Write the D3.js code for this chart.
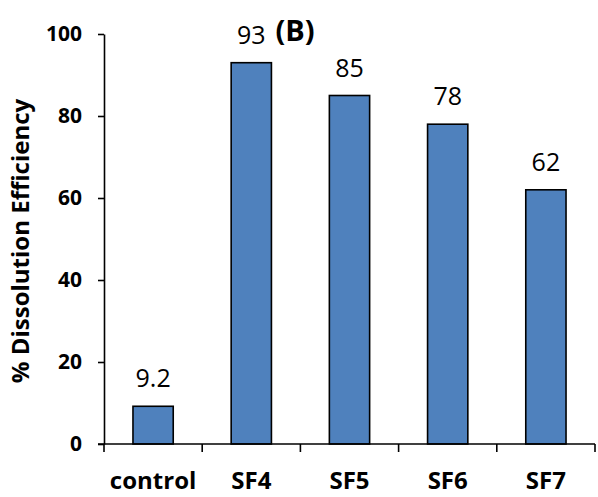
<!DOCTYPE html>
<html>
<head>
<meta charset="utf-8">
<script src="https://cdn.jsdelivr.net/npm/d3@7"></script>
<style>
  html, body { margin: 0; padding: 0; background: #fff; }
  svg { display: block; }
</style>
</head>
<body>
<svg id="chart" width="598" height="497"></svg>
<script>
const categories = ["control", "SF4", "SF5", "SF6", "SF7"];
const values = [9.2, 93, 85, 78, 62];
const yTicks = [0, 20, 40, 60, 80, 100];
const yTitle = "% Dissolution Efficiency";
const panelTitle = "(B)";

(function () {
const svg = d3.select("#chart");
const plotLeft = 104, plotRight = 595, plotTop = 34, plotBottom = 444;

const x = d3.scaleBand().domain(categories).range([plotLeft, plotRight])
  .paddingInner(0.59).paddingOuter(0.295);
const y = d3.scaleLinear().domain([0, 100]).range([plotBottom, plotTop]);

// Y axis
const yAxis = svg.append("g")
  .attr("transform", `translate(${plotLeft},0)`)
  .call(d3.axisLeft(y).tickValues(yTicks).tickSize(6).tickSizeOuter(0).tickPadding(16));
yAxis.select(".domain").attr("stroke", "#000").attr("stroke-width", 1.6);
yAxis.selectAll(".tick line").attr("stroke", "#000").attr("stroke-width", 1.6);
yAxis.selectAll(".tick text")
  .attr("font-family", "'Open Sans', sans-serif")
  .attr("font-weight", "bold")
  .attr("font-size", 21)
  .attr("fill", "#000");

// Bars
svg.append("g").selectAll("rect")
  .data(values)
  .join("rect")
  .attr("x", (d, i) => x(categories[i]))
  .attr("y", d => y(d))
  .attr("width", x.bandwidth())
  .attr("height", d => y(0) - y(d))
  .attr("fill", "#4f81bd")
  .attr("stroke", "#000")
  .attr("stroke-width", 1.6);

// X axis line
svg.append("line")
  .attr("x1", plotLeft - 6).attr("x2", plotRight)
  .attr("y1", y(0)).attr("y2", y(0))
  .attr("stroke", "#000").attr("stroke-width", 1.6);

// X ticks at category boundaries
const half = x.step() * x.paddingInner() / 2;
const boundaries = categories.map(c => x(c) - half)
  .concat([x(categories[categories.length - 1]) - half + x.step()]);
svg.append("g").selectAll("line")
  .data(boundaries)
  .join("line")
  .attr("x1", d => d).attr("x2", d => d)
  .attr("y1", y(0)).attr("y2", y(0) + 8)
  .attr("stroke", "#000").attr("stroke-width", 1.6);

// X labels
svg.append("g").selectAll("text")
  .data(categories)
  .join("text")
  .attr("x", d => x(d) + x.bandwidth() / 2)
  .attr("y", 489)
  .attr("text-anchor", "middle")
  .attr("font-family", "'Open Sans', sans-serif")
  .attr("font-weight", "bold")
  .attr("font-size", 24)
  .attr("fill", "#000")
  .text(d => d);

// Value labels
svg.append("g").selectAll("text")
  .data(values)
  .join("text")
  .attr("x", (d, i) => x(categories[i]) + x.bandwidth() / 2)
  .attr("y", d => y(d) - 19)
  .attr("text-anchor", "middle")
  .attr("font-family", "'Open Sans', sans-serif")
  .attr("font-size", 25)
  .attr("fill", "#000")
  .text(d => String(d));

// Y title
svg.append("text")
  .attr("transform", "translate(29,241) rotate(-90)")
  .attr("text-anchor", "middle")
  .attr("font-family", "'Open Sans', sans-serif")
  .attr("font-weight", "bold")
  .attr("font-size", 24)
  .attr("fill", "#000")
  .text(yTitle);

// Panel title
svg.append("text")
  .attr("x", 295)
  .attr("y", 41)
  .attr("text-anchor", "middle")
  .attr("font-family", "'Open Sans', sans-serif")
  .attr("font-weight", "bold")
  .attr("font-size", 29)
  .attr("fill", "#000")
  .text(panelTitle);
})();
</script>
</body>
</html>
